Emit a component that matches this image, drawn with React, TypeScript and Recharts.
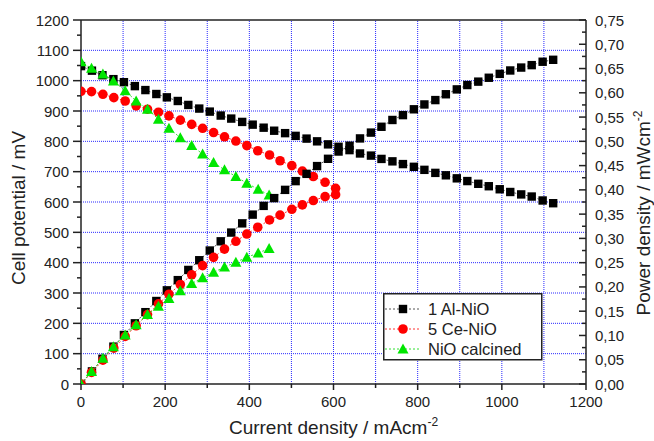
import React from 'react';
import { ComposedChart, Scatter, XAxis, YAxis, ReferenceLine, Legend } from 'recharts';

// ---- tick values ----
const xTicks = [0, 100, 200, 300, 400, 500, 600, 700, 800, 900, 1000, 1100, 1200];
const xLabelTicks = [0, 200, 400, 600, 800, 1000, 1200];
const xGrid = [100, 200, 300, 400, 500, 600, 700, 800, 900, 1000, 1100];
const mvTicks = [0, 50, 100, 150, 200, 250, 300, 350, 400, 450, 500, 550, 600, 650, 700, 750, 800, 850, 900, 950, 1000, 1050, 1100, 1150, 1200];
const mvLabelTicks = [0, 100, 200, 300, 400, 500, 600, 700, 800, 900, 1000, 1100, 1200];
const mvGrid = [100, 200, 300, 400, 500, 600, 700, 800, 900, 1000, 1100];
const pwTicks = [0, 0.025, 0.05, 0.075, 0.1, 0.125, 0.15, 0.175, 0.2, 0.225, 0.25, 0.275, 0.3, 0.325, 0.35, 0.375, 0.4, 0.425, 0.45, 0.475, 0.5, 0.525, 0.55, 0.575, 0.6, 0.625, 0.65, 0.675, 0.7, 0.725, 0.75];
const pwLabelTicks = [0, 0.05, 0.1, 0.15, 0.2, 0.25, 0.3, 0.35, 0.4, 0.45, 0.5, 0.55, 0.6, 0.65, 0.7, 0.75];

// ---- series: 1 Al-NiO ----
const alCurrent = [0, 26, 51, 77, 102, 128, 153, 179, 204, 230, 255, 281, 306, 332, 357, 383, 408, 434, 459, 485, 510, 536, 561, 587, 612, 638, 663, 689, 714, 740, 765, 791, 816, 842, 867, 893, 918, 944, 969, 995, 1020, 1046, 1071, 1097, 1122];
const alVoltage = [1048, 1033, 1018, 1005, 995, 982, 969, 956, 945, 933, 920, 908, 898, 885, 875, 864, 855, 845, 835, 827, 818, 809, 800, 790, 782, 771, 760, 753, 742, 734, 725, 716, 706, 696, 688, 678, 669, 660, 652, 642, 633, 625, 618, 605, 596];
const alPower = [0, 0.026, 0.052, 0.077, 0.101, 0.125, 0.148, 0.171, 0.193, 0.214, 0.235, 0.255, 0.275, 0.294, 0.312, 0.331, 0.349, 0.367, 0.383, 0.4, 0.418, 0.433, 0.449, 0.464, 0.479, 0.491, 0.506, 0.518, 0.53, 0.544, 0.554, 0.566, 0.576, 0.585, 0.597, 0.607, 0.616, 0.623, 0.631, 0.639, 0.646, 0.652, 0.657, 0.664, 0.668];

// ---- series: 5 Ce-NiO ----
const ceCurrent = [0, 25, 52, 78, 105, 131, 158, 184, 209, 236, 263, 289, 315, 341, 368, 394, 420, 448, 473, 501, 526, 552, 580, 605];
const ceVoltage = [965, 964, 955, 944, 933, 917, 906, 896, 884, 870, 856, 843, 829, 815, 801, 786, 769, 755, 736, 720, 702, 684, 665, 645];
const cePower = [0, 0.024, 0.049, 0.074, 0.098, 0.12, 0.143, 0.165, 0.185, 0.205, 0.225, 0.244, 0.261, 0.278, 0.294, 0.309, 0.323, 0.338, 0.348, 0.36, 0.369, 0.378, 0.386, 0.39];

// ---- series: NiO calcined ----
const niCurrent = [0, 25, 52, 77, 105, 131, 158, 184, 209, 236, 263, 289, 315, 341, 368, 394, 421, 447];
const niVoltage = [1062, 1041, 1022, 999, 967, 933, 906, 873, 843, 812, 786, 758, 730, 706, 684, 662, 642, 623];
const niPower = [0, 0.026, 0.053, 0.077, 0.101, 0.122, 0.143, 0.16, 0.176, 0.192, 0.207, 0.219, 0.23, 0.241, 0.251, 0.261, 0.27, 0.279];

const seriesNames = ['1 Al-NiO', '5 Ce-NiO', 'NiO calcined'];
const seriesColors = ['#000000', '#ff0000', '#00e600'];
const lineColors = ['#555555', '#ff3030', '#30e030'];

const pairs = (xs: number[], ys: number[]) => xs.map((x, i) => ({ x, y: ys[i] }));

const FONT = '"Liberation Sans", Arial, sans-serif';
const AX = '#222';
const GRID = '#2a2aff';

const SquareShape = (p: any) => <rect x={p.cx - 4.2} y={p.cy - 4.2} width={8.4} height={8.4} fill={seriesColors[0]} />;
const CircleShape = (p: any) => <circle cx={p.cx} cy={p.cy} r={4.8} fill={seriesColors[1]} />;
const TriShape = (p: any) => (
  <polygon points={`${p.cx},${p.cy - 5.5} ${p.cx + 5.5},${p.cy + 4.5} ${p.cx - 5.5},${p.cy + 4.5}`} fill={seriesColors[2]} />
);

const XTick = (props: any) => {
  const { x, y, payload } = props;
  const v = payload.value;
  const major = xLabelTicks.includes(v);
  return (
    <g>
      <line x1={x} x2={x} y1={y} y2={y + (major ? 6 : 4)} stroke={AX} strokeWidth={1.5} />
      {major && (
        <text x={x} y={y + 23} textAnchor="middle" fontSize={15} fill={AX} fontFamily={FONT}>{v}</text>
      )}
    </g>
  );
};

const LeftTick = (props: any) => {
  const { x, y, payload } = props;
  const v = payload.value;
  const major = mvLabelTicks.includes(v);
  return (
    <g>
      <line x1={x} x2={x - (major ? 8 : 4)} y1={y} y2={y} stroke={AX} strokeWidth={1.5} />
      {major && (
        <text x={x - 12} y={y + 5.5} textAnchor="end" fontSize={15} fill={AX} fontFamily={FONT}>{v}</text>
      )}
    </g>
  );
};

const RightTick = (props: any) => {
  const { x, y, payload } = props;
  const v = payload.value;
  const major = pwLabelTicks.some((t) => Math.abs(t - v) < 1e-6);
  return (
    <g>
      <line x1={x} x2={x - (major ? 7 : 4)} y1={y} y2={y} stroke={AX} strokeWidth={1.5} />
      {major && (
        <text x={x + 9} y={y + 5.5} textAnchor="start" fontSize={15} fill={AX} fontFamily={FONT}>
          {v.toFixed(2).replace('.', ',')}
        </text>
      )}
    </g>
  );
};

const markerFor = (i: number, cx: number, cy: number) => {
  if (i === 0) return <SquareShape cx={cx} cy={cy} />;
  if (i === 1) return <CircleShape cx={cx} cy={cy} />;
  return <TriShape cx={cx} cy={cy} />;
};

const LegendBox = () => (
  <svg width={160} height={68} style={{ display: 'block' }}>
    <rect x={0.75} y={0.75} width={158} height={66} fill="#ffffff" stroke={AX} strokeWidth={1.5} />
    {seriesNames.map((name, i) => {
      const cy = 16 + i * 20;
      return (
        <g key={name}>
          <line x1={2} x2={38} y1={cy} y2={cy} stroke={lineColors[i]} strokeWidth={1} strokeDasharray="2 2" />
          {markerFor(i, 20, cy)}
          <text x={45} y={cy + 6} fontSize={16.5} fill={AX} fontFamily={FONT}>{name}</text>
        </g>
      );
    })}
  </svg>
);

const XTitle = (props: any) => {
  const vb = props.viewBox || {};
  const cx = vb.x + vb.width / 2;
  return (
    <text x={cx} y={vb.y + 50} textAnchor="middle" fontSize={19} fill={AX} fontFamily={FONT}>
      Current density / mAcm<tspan fontSize={12} dy={-8}>-2</tspan>
    </text>
  );
};

const LeftTitle = (props: any) => {
  const vb = props.viewBox || {};
  const cy = vb.y + vb.height / 2 + 6;
  const x = 25;
  return (
    <text x={x} y={cy} textAnchor="middle" fontSize={19} fill={AX} fontFamily={FONT} transform={`rotate(-90, ${x}, ${cy})`}>
      Cell potential / mV
    </text>
  );
};

const RightTitle = (props: any) => {
  const vb = props.viewBox || {};
  const cy = vb.y + vb.height / 2 + 11;
  const x = vb.x + 64;
  return (
    <text x={x} y={cy} textAnchor="middle" fontSize={19} fill={AX} fontFamily={FONT} transform={`rotate(-90, ${x}, ${cy})`}>
      Power density / mWcm<tspan fontSize={12} dy={-8}>-2</tspan>
    </text>
  );
};

export default function App() {
  const series = [
    { v: pairs(alCurrent, alVoltage), p: pairs(alCurrent, alPower), shape: SquareShape },
    { v: pairs(ceCurrent, ceVoltage), p: pairs(ceCurrent, cePower), shape: CircleShape },
    { v: pairs(niCurrent, niVoltage), p: pairs(niCurrent, niPower), shape: TriShape },
  ];
  return (
    <div style={{ position: 'absolute', left: 0, top: 0, width: 654, height: 441, background: '#fff' }}>
      <ComposedChart width={654} height={441} margin={{ top: 20, right: 0, bottom: 0, left: 0 }}>
        <XAxis
          xAxisId="x"
          type="number"
          dataKey="x"
          domain={[0, 1200]}
          ticks={xTicks}
          interval={0}
          height={57}
          tickSize={0}
          tickMargin={0}
          tickLine={false}
          tick={<XTick />}
          axisLine={{ stroke: AX, strokeWidth: 1.5 }}
          label={<XTitle />}
          allowDataOverflow
        />
        <YAxis
          yAxisId="mv"
          orientation="left"
          type="number"
          dataKey="y"
          domain={[0, 1200]}
          ticks={mvTicks}
          interval={0}
          width={81}
          tickSize={0}
          tickMargin={0}
          tickLine={false}
          tick={<LeftTick />}
          axisLine={{ stroke: AX, strokeWidth: 1.5 }}
          label={<LeftTitle />}
          allowDataOverflow
        />
        <YAxis
          yAxisId="pw"
          orientation="right"
          type="number"
          dataKey="y"
          domain={[0, 0.75]}
          ticks={pwTicks}
          interval={0}
          width={68}
          tickSize={0}
          tickMargin={0}
          tickLine={false}
          tick={<RightTick />}
          axisLine={{ stroke: AX, strokeWidth: 1.5 }}
          label={<RightTitle />}
          allowDataOverflow
        />
        {mvGrid.map((v) => (
          <ReferenceLine key={'h' + v} xAxisId="x" yAxisId="mv" y={v} stroke={GRID} strokeWidth={1} strokeDasharray="1 1" />
        ))}
        {xGrid.map((v) => (
          <ReferenceLine key={'v' + v} xAxisId="x" yAxisId="mv" x={v} stroke={GRID} strokeWidth={1} strokeDasharray="1 1" />
        ))}
        <ReferenceLine xAxisId="x" yAxisId="mv" y={1200} stroke={AX} strokeWidth={1.5} />
        {series.map((s, i) => (
          <Scatter
            key={'v' + i}
            name={seriesNames[i]}
            data={s.v}
            xAxisId="x"
            yAxisId="mv"
            shape={s.shape}
            line={{ stroke: lineColors[i], strokeWidth: 1, strokeDasharray: '2 2' }}
            lineType="joint"
            isAnimationActive={false}
            legendType="none"
          />
        ))}
        {series.map((s, i) => (
          <Scatter
            key={'p' + i}
            name={seriesNames[i] + ' power'}
            data={s.p}
            xAxisId="x"
            yAxisId="pw"
            shape={s.shape}
            line={{ stroke: lineColors[i], strokeWidth: 1, strokeDasharray: '2 2' }}
            lineType="joint"
            isAnimationActive={false}
            legendType="none"
          />
        ))}
        <Legend
          layout="vertical"
          align="center"
          verticalAlign="middle"
          content={<LegendBox />}
          wrapperStyle={{ left: 383, top: 293, width: 160, height: 68 }}
        />
      </ComposedChart>
    </div>
  );
}
